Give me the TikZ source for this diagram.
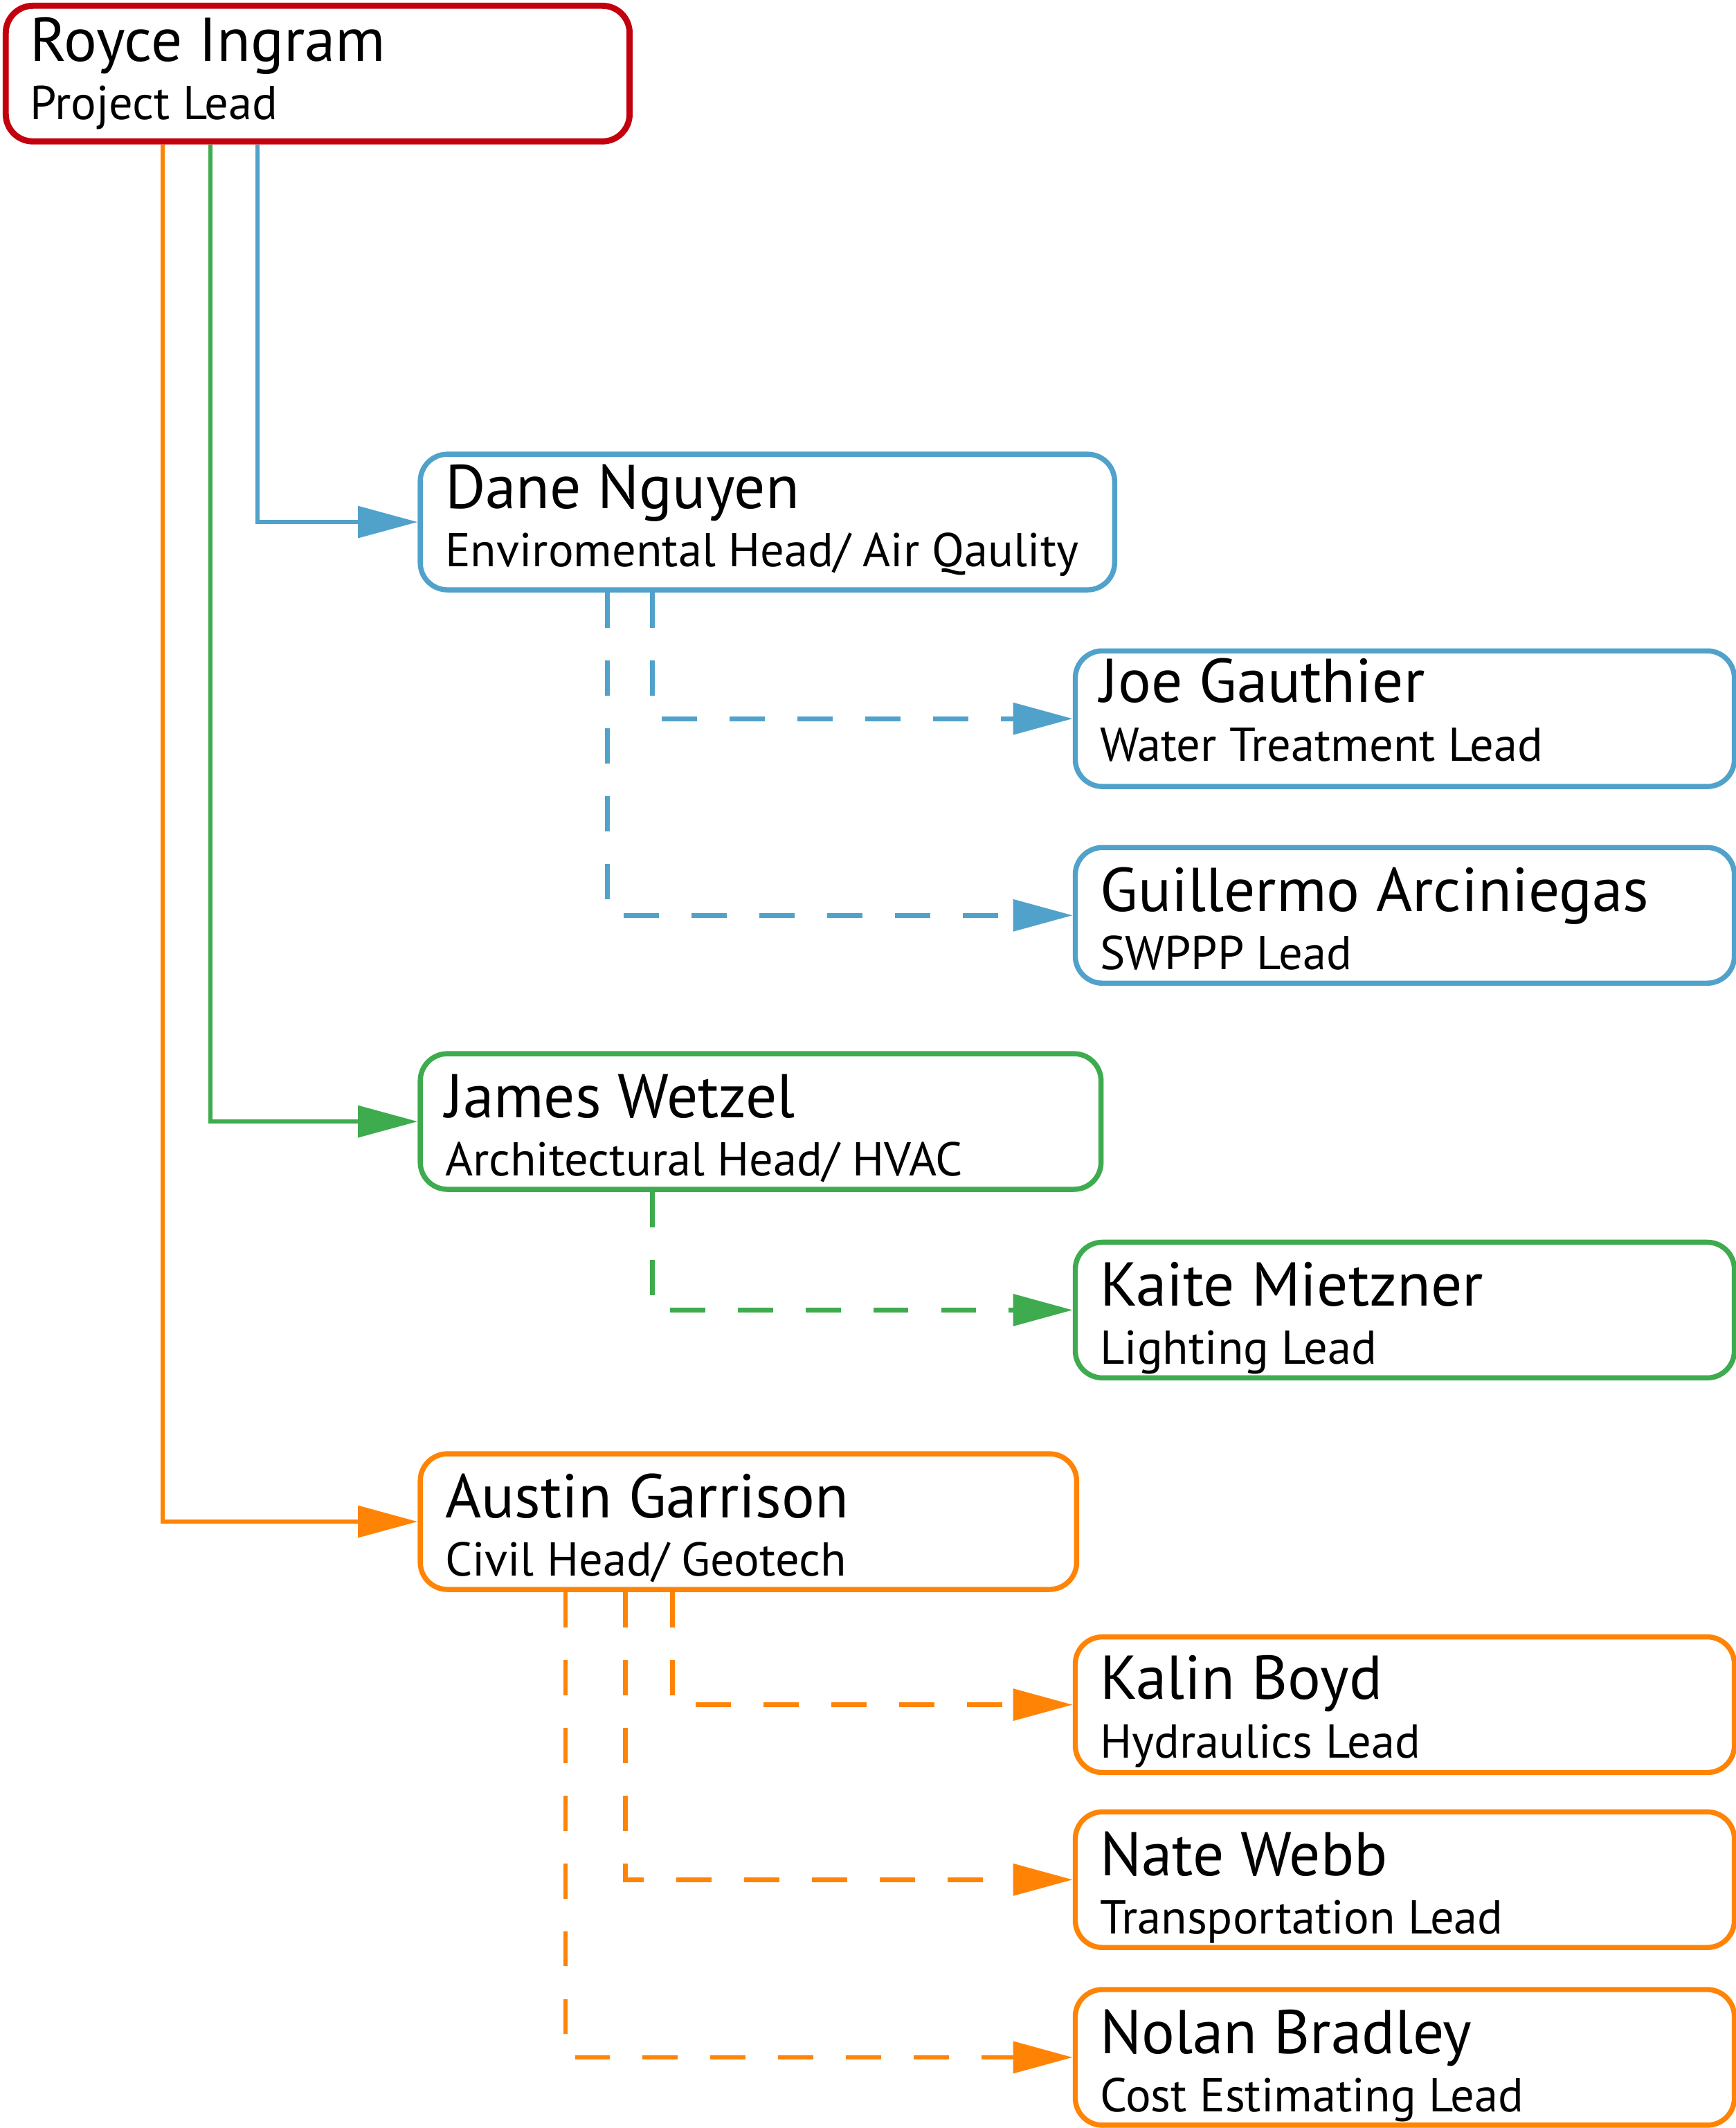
\documentclass[tikz,border=0pt]{standalone}
\usepackage{fontspec}
\setmainfont{PT Sans}
\usepackage{xcolor}
\usetikzlibrary{arrows.meta,calc}

\definecolor{cred}{HTML}{C3000E}
\definecolor{cblue}{HTML}{51A2CB}
\definecolor{cgreen}{HTML}{3EAB4F}
\definecolor{corange}{HTML}{FF8405}

\begin{document}
\begin{tikzpicture}[
    x=1pt, y=-1pt,
    box/.style={rectangle, draw=#1, line width=3.8pt, rounded corners=20pt,
        anchor=north west, inner sep=0pt, minimum height=100pt},
    pname/.style={anchor=base west, inner sep=0pt, font=\fontsize{45.6}{50}\selectfont},
    prole/.style={anchor=base west, inner sep=0pt, font=\fontsize{35}{40}\selectfont},
    arrow/.style={-{Triangle[length=44pt,width=23pt]}, line width=3pt},
    darrow/.style={arrow, line width=3.4pt, dash pattern=on 26pt off 24pt}
]
    \useasboundingbox (0,0) rectangle (1280,1569);

    % boxes
    \node[box=cred, line width=4.5pt, minimum width=460pt] (royce) at (2,2) {};
    \node[box=cblue, minimum width=512pt] (dane) at (308,333) {};
    \node[box=cblue, minimum width=486pt] (joe) at (791,478) {};
    \node[box=cblue, minimum width=486pt] (guillermo) at (791,623) {};
    \node[box=cgreen, minimum width=502pt] (james) at (308,775) {};
    \node[box=cgreen, minimum width=486pt] (kaite) at (791,914) {};
    \node[box=corange, minimum width=484pt] (austin) at (308,1070) {};
    \node[box=corange, minimum width=486pt] (kalin) at (791,1205) {};
    \node[box=corange, minimum width=486pt] (nate) at (791,1334) {};
    \node[box=corange, minimum width=486pt] (nolan) at (791,1465) {};

    % names and roles
    \node[pname] (royce-n) at ($(royce.north west)+(20,43)$) {Royce Ingram};
    \node[prole] (royce-r) at ($(royce.north west)+(20,86)$) {Project Lead};
    \node[pname] (dane-n) at ($(dane.north west)+(20,42)$) {Dane Nguyen};
    \node[prole] (dane-r) at ($(dane.north west)+(20,85)$) {Enviromental Head/ Air Qaulity};
    \node[pname] (joe-n) at ($(joe.north west)+(20,40)$) {Joe Gauthier};
    \node[prole] (joe-r) at ($(joe.north west)+(20,83)$) {Water Treatment Lead};
    \node[pname] (guillermo-n) at ($(guillermo.north west)+(20,49)$) {Guillermo Arciniegas};
    \node[prole] (guillermo-r) at ($(guillermo.north west)+(20,92)$) {SWPPP Lead};
    \node[pname] (james-n) at ($(james.north west)+(20,49)$) {James Wetzel};
    \node[prole] (james-r) at ($(james.north west)+(20,92)$) {Architectural Head/ HVAC};
    \node[pname] (kaite-n) at ($(kaite.north west)+(20,49)$) {Kaite Mietzner};
    \node[prole] (kaite-r) at ($(kaite.north west)+(20,92)$) {Lighting Lead};
    \node[pname] (austin-n) at ($(austin.north west)+(20,49)$) {Austin Garrison};
    \node[prole] (austin-r) at ($(austin.north west)+(20,92)$) {Civil Head/ Geotech};
    \node[pname] (kalin-n) at ($(kalin.north west)+(20,48)$) {Kalin Boyd};
    \node[prole] (kalin-r) at ($(kalin.north west)+(20,91)$) {Hydraulics Lead};
    \node[pname] (nate-n) at ($(nate.north west)+(20,49)$) {Nate Webb};
    \node[prole] (nate-r) at ($(nate.north west)+(20,92)$) {Transportation Lead};
    \node[pname] (nolan-n) at ($(nolan.north west)+(20,49)$) {Nolan Bradley};
    \node[prole] (nolan-r) at ($(nolan.north west)+(20,92)$) {Cost Estimating Lead};

    % lead to heads
    \draw[arrow, cblue] ($(royce.south west)+(188,0)$) |- (dane.west);
    \draw[arrow, cgreen] ($(royce.south west)+(153,0)$) |- (james.west);
    \draw[arrow, corange] ($(royce.south west)+(118,0)$) |- (austin.west);

    % heads to leads
    \draw[darrow, cblue] ($(dane.south west)+(173,0)$) |- (joe.west);
    \draw[darrow, cblue] ($(dane.south west)+(140,0)$) |- (guillermo.west);
    \draw[darrow, cgreen] ($(james.south west)+(173,0)$) |- (kaite.west);
    \draw[darrow, corange] ($(austin.south west)+(188,0)$) |- (kalin.west);
    \draw[darrow, corange] ($(austin.south west)+(153,0)$) |- (nate.west);
    \draw[darrow, corange] ($(austin.south west)+(109,0)$) |- (nolan.west);
\end{tikzpicture}
\end{document}
